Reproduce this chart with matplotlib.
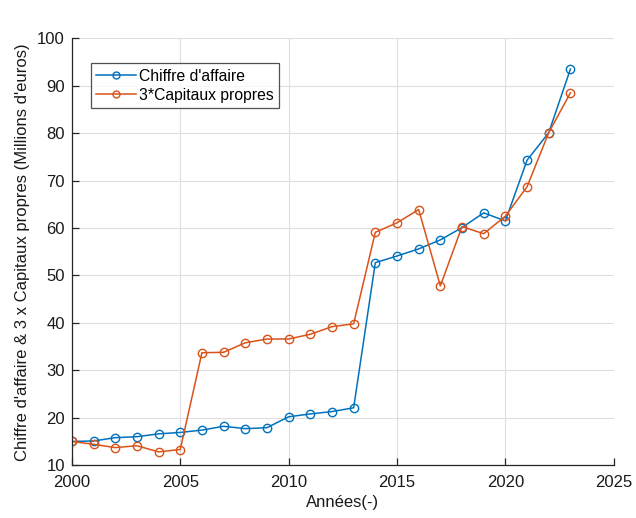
import matplotlib
matplotlib.use("Agg")
import matplotlib.pyplot as plt

plt.rcParams['font.family'] = ['Liberation Sans', 'DejaVu Sans']

years = list(range(2000, 2024))
chiffre_affaire = [15.0, 15.1, 15.8, 16.0, 16.6, 16.9, 17.4, 18.2, 17.7, 17.9,
                   20.2, 20.8, 21.3, 22.1, 52.7, 54.1, 55.6, 57.5, 60.1, 63.2,
                   61.5, 74.3, 80.1, 93.5]
capitaux_x3 = [15.0, 14.4, 13.7, 14.1, 12.8, 13.3, 33.7, 33.8, 35.8, 36.6,
               36.6, 37.6, 39.2, 39.8, 59.1, 61.1, 63.9, 47.8, 60.3, 58.8,
               62.5, 68.7, 80.1, 88.5]

blue = '#0072BD'
orange = '#D95319'
axis_col = '#262626'

fig = plt.figure(figsize=(6.36, 5.18), dpi=100)
ax = fig.add_axes([0.113, 0.102, 0.852, 0.824])

ax.plot(years, chiffre_affaire, color=blue, lw=1.1, marker='o', ms=6,
        mfc='none', mec=blue, mew=1.0, label="Chiffre d'affaire")
ax.plot(years, capitaux_x3, color=orange, lw=1.1, marker='o', ms=6,
        mfc='none', mec=orange, mew=1.0, label="3*Capitaux propres")

ax.set_xlim(2000, 2025)
ax.set_ylim(10, 100)
ax.set_xticks(range(2000, 2026, 5))
ax.set_yticks(range(10, 101, 10))

ax.grid(True, color='#dedede', lw=0.8)
ax.set_axisbelow(True)
for side in ('top', 'right'):
    ax.spines[side].set_visible(False)
for side in ('left', 'bottom'):
    ax.spines[side].set_color(axis_col)
    ax.spines[side].set_linewidth(0.9)
ax.tick_params(direction='in', length=5, width=0.9, colors=axis_col,
               labelsize=12, labelcolor='#1a1a1a')
ax.tick_params(axis='x', pad=7)
ax.tick_params(axis='y', pad=5)

ax.set_xlabel('Années(-)', fontsize=12, color='#1a1a1a', labelpad=4)
ax.set_ylabel("Chiffre d'affaire & 3 x Capitaux propres (Millions d'euros)",
              fontsize=12, color='#1a1a1a', labelpad=5)

leg = ax.legend(loc='upper left', bbox_to_anchor=(0.035, 0.942), fontsize=11.3,
                frameon=True, fancybox=False, borderpad=0.35,
                handlelength=2.5, handletextpad=0.2, labelspacing=0.25,
                borderaxespad=0)
leg.get_frame().set_edgecolor(axis_col)
leg.get_frame().set_linewidth(0.9)
for h in leg.legend_handles:
    h.set_markersize(5)

fig.savefig('out.png', dpi=100)
